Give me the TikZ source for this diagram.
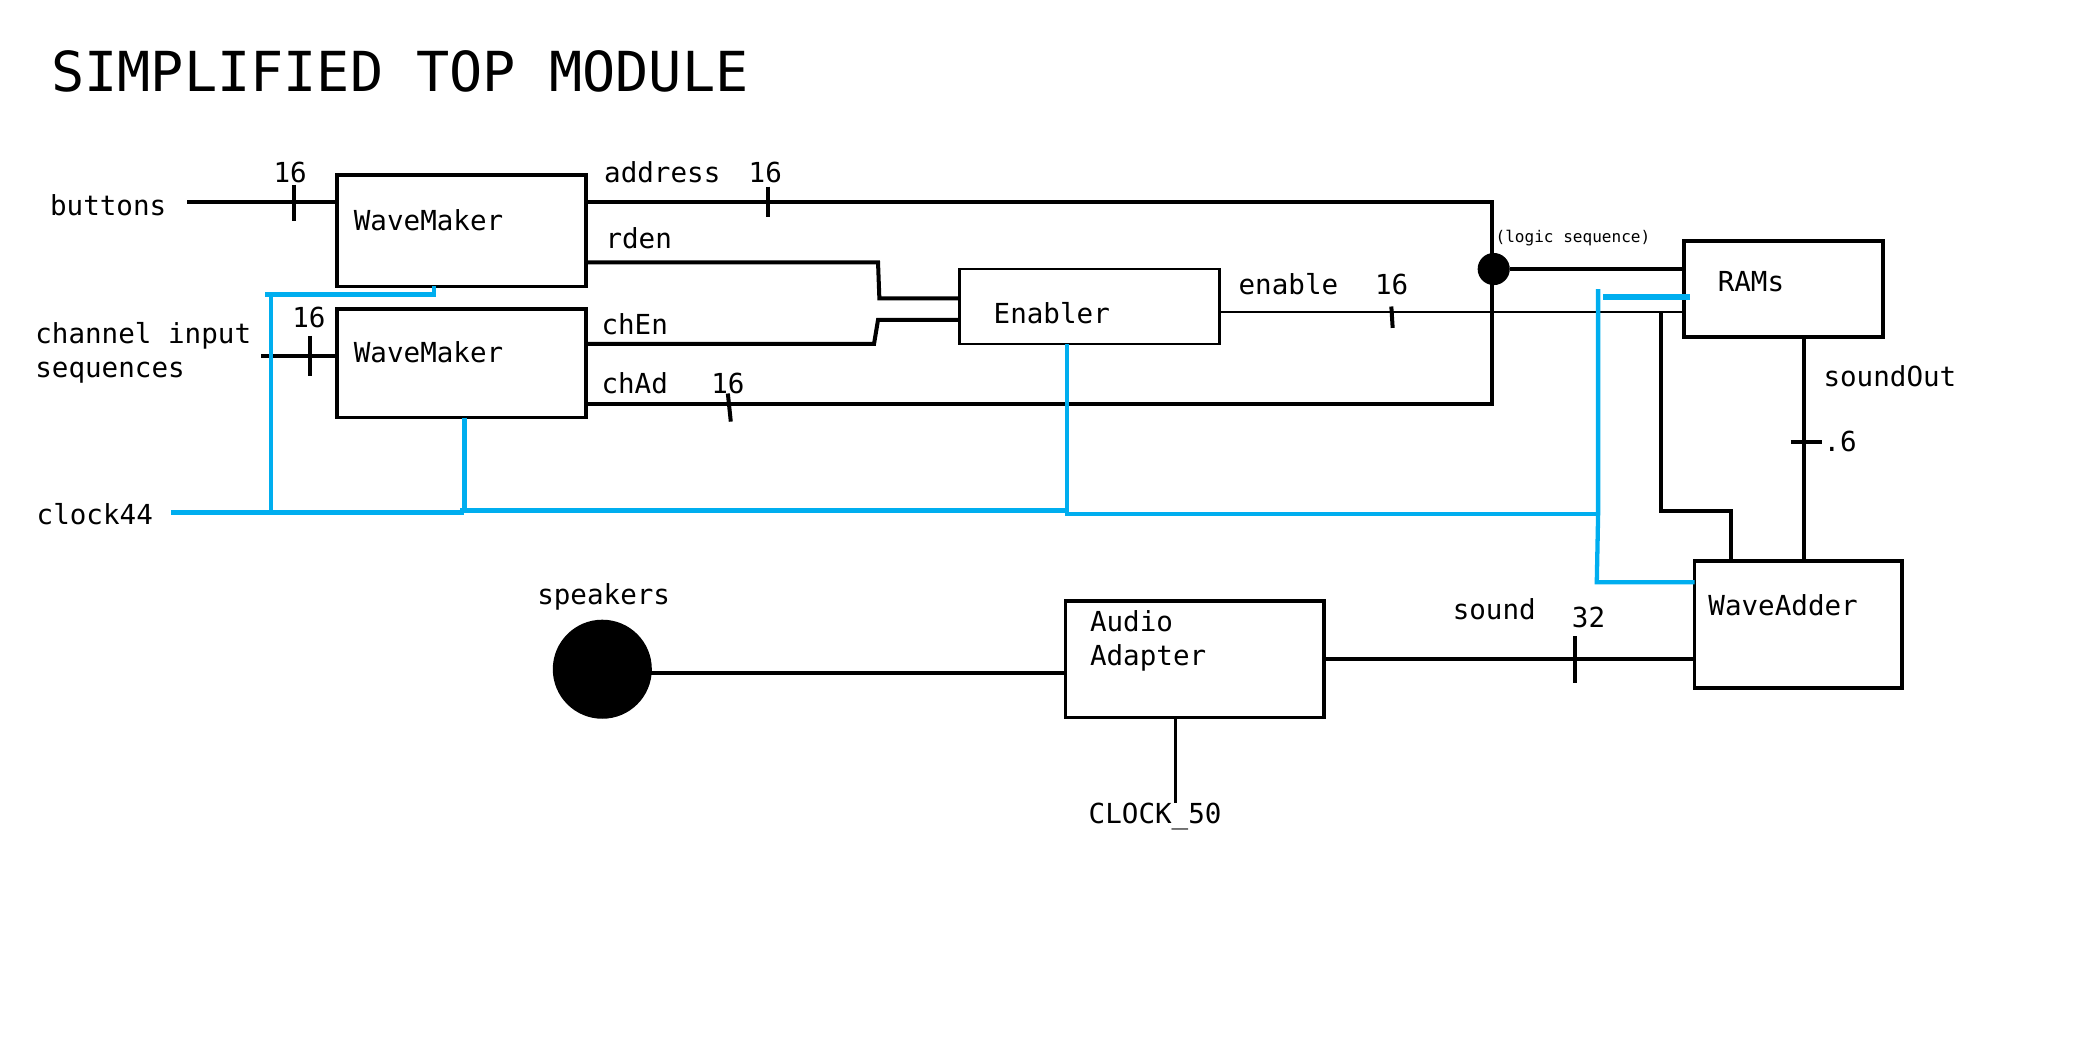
\documentclass[tikz,border=0pt]{standalone}
\usepackage{fontspec}
\setmainfont{DejaVu Sans Mono}
\definecolor{clk}{HTML}{00AEEF}
\begin{document}
\begin{tikzpicture}[x=0.5pt,y=-0.5pt,
  w/.style={line width=1.5pt,draw=black},
  wthin/.style={line width=0.8pt,draw=black},
  b/.style={line width=1.6pt,draw=clk},
  box/.style={draw=black,line width=1.4pt,fill=none,inner sep=0pt,outer sep=0pt,anchor=north west},
  lab/.style={inner sep=0pt,anchor=base west,font=\fontsize{10.3pt}{12.5pt}\selectfont},
  small/.style={inner sep=0pt,anchor=base west,font=\fontsize{6pt}{7pt}\selectfont},
  pics/vtick/.style={code={\draw[line width=1.5pt] (0,-#1) -- (0,#1);}},
  pics/htick/.style={code={\draw[line width=1.5pt] (-#1,0) -- (#1,0);}}]
\useasboundingbox (0,0) rectangle (1560,780);

% title
\node[inner sep=0pt,anchor=base west,font=\fontsize{20.6pt}{25pt}\selectfont] (title) at (38,68) {SIMPLIFIED TOP MODULE};

% boxes
\node[box,minimum width=93pt,minimum height=41.5pt] (wm1) at (252,131) {};
\node[box,minimum width=93pt,minimum height=40.5pt] (wm2) at (252,231) {};
\node[box,line width=0.9pt,minimum width=97pt,minimum height=28pt] (en) at (717,201) {};
\node[box,minimum width=74.5pt,minimum height=36pt] (rams) at (1258,180) {};
\node[box,minimum width=77.5pt,minimum height=47.5pt] (wa) at (1266,419) {};
\node[box,minimum width=96.5pt,minimum height=43.5pt] (aa) at (796,449) {};
\node[circle,fill=black,inner sep=0pt,outer sep=0pt,minimum size=37pt] (spk) at (450,500) {};
\node[circle,fill=black,inner sep=0pt,outer sep=0pt,minimum size=12pt] (dot) at (1116,201) {};

% box texts
\node[lab] (wm1t) at (264,172) {WaveMaker};
\node[lab] (wm2t) at (264,271) {WaveMaker};
\node[lab] (ent) at (742,242) {Enabler};
\node[lab] (ramst) at (1283,218) {RAMs};
\node[lab] (wat) at (1276,459.5) {WaveAdder};
\node[lab] (aat1) at (814,472) {Audio};
\node[lab] (aat2) at (814,497) {Adapter};

% other labels
\node[lab] (lbtn) at (37,161) {buttons};
\node[lab] (lbtn16) at (204,136) {16};
\node[lab] (lch1) at (26,257) {channel input};
\node[lab] (lch2) at (26,282) {sequences};
\node[lab] (lch16) at (218,245) {16};
\node[lab] (lclk) at (27,392) {clock44};
\node[lab] (laddr) at (451,136) {address};
\node[lab] (laddr16) at (559,136) {16};
\node[lab] (lrden) at (452,186) {rden};
\node[lab] (lchen) at (449,250) {chEn};
\node[lab] (lchad) at (449,294) {chAd};
\node[lab] (lchad16) at (531,294) {16};
\node[lab] (lenable) at (925,220) {enable};
\node[lab] (lenable16) at (1027,220) {16};
\node[small] (llogic) at (1117,181) {(logic sequence)};
\node[lab] (lsoundout) at (1362,289) {soundOut};
\node[lab] (l6) at (1362,337) {.6};
\node[lab] (lspk) at (401,452) {speakers};
\node[lab] (lsound) at (1085,463) {sound};
\node[lab] (lsound32) at (1174,469) {32};
\node[lab] (lc50) at (813,615) {CLOCK\_50};

% coordinates
\coordinate (btn) at (140,151);
\coordinate (chin) at (195,266);
\coordinate (addrR) at (1115,151);
\coordinate (chadR) at (1115,302);
\coordinate (rdA) at (656,196);
\coordinate (rdB) at (657,223);
\coordinate (ceA) at (653,257);
\coordinate (ceB) at (656,239);
\coordinate (enJ) at (1241,233);
\coordinate (enK) at (1241,382);
\coordinate (enL) at (1293,382);
\coordinate (so) at (1348,252);
\coordinate (sl) at (450,503);
\coordinate (sd) at (991,492);
\coordinate (c50) at (878,600);

% black connectors
\draw[w] (btn) -- (btn -| wm1.west);
\pic at (220,151.5) {vtick=13.5};
\draw[w] (chin) -- (chin -| wm2.west);
\pic at (231.5,266) {vtick=15};
\draw[w] (wm1.east |- addrR) -- (addrR) -- (chadR) -- (wm2.east |- chadR);
\pic at (573.5,151) {vtick=11.5};
\draw[line width=1.5pt] (543.8,294) -- (546,315);
\draw[w] (wm1.east |- rdA) -- (rdA) -- (rdB) -- (rdB -| en.west);
\draw[w] (wm2.east |- ceA) -- (ceA) -- (ceB) -- (ceB -| en.west);
\draw[w] (dot) -- (dot -| rams.west);
\draw[wthin] (en.east |- enJ) -- (enJ -| rams.west);
\draw[line width=1.5pt] (1039.5,229) -- (1040.5,245);
\draw[w] (enJ) -- (enK) -- (enL) -- (enL |- wa.north);
\draw[w] (rams.south -| so) -- (wa.north -| so);
\pic at (1349.5,330.5) {htick=11.5};
\draw[w] (sl) -- (sl -| aa.west);
\draw[w] (aa.east |- sd) -- (sd -| wa.west);
\pic at (1177,493) {vtick=17.5};
\draw[wthin,line width=1.1pt] (aa.south -| c50) -- (c50);

% blue clock connectors
\coordinate (clkL) at (128,383);
\coordinate (cv1) at (202.5,383);
\coordinate (cv1t) at (202.5,221);
\coordinate (ch1) at (198,220);
\coordinate (ch1r) at (324,220);
\coordinate (cw2) at (347,382);
\coordinate (cen) at (797,383);
\coordinate (cbt) at (1194,216);
\coordinate (cbm) at (1194,384);
\coordinate (cbb) at (1193,435);
\coordinate (cr) at (1198,222);
\draw[b] (clkL) -- (345,383) -- (345,381.5) -- (797,381.5) -- (797,384) -- (cbm);
\draw[b] (cv1) -- (cv1t);
\draw[b] (ch1) -- (ch1r) -- (ch1r |- wm1.south);
\draw[b] (wm2.south -| cw2) -- (cw2);
\draw[b] (en.south -| cen) -- (cen);
\draw[b] (cbt) -- (cbm) -- (cbb) -- (cbb -| wa.west);
\draw[b,line width=2.2pt] (cr) -- ([xshift=2.5pt]cr -| rams.west);
\end{tikzpicture}
\end{document}
